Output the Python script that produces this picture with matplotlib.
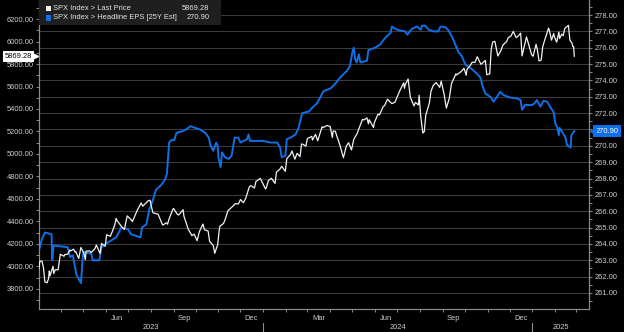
import matplotlib
matplotlib.use("Agg")
import matplotlib.pyplot as plt
import matplotlib.dates as mdates
import matplotlib.transforms as mtransforms
from matplotlib.patches import Rectangle
from matplotlib.ticker import MultipleLocator, FormatStrFormatter
import pandas as pd

plt.rcParams['font.family'] = ['Liberation Sans', 'DejaVu Sans']

# SPX Index > Last Price
spx_dates = [
  '2023-03-02', '2023-03-03', '2023-03-06', '2023-03-08', '2023-03-10', '2023-03-13', '2023-03-15',
  '2023-03-16', '2023-03-17', '2023-03-21', '2023-03-22', '2023-03-24', '2023-03-28', '2023-03-31',
  '2023-04-05', '2023-04-06', '2023-04-10', '2023-04-13', '2023-04-14', '2023-04-18', '2023-04-20',
  '2023-04-21', '2023-04-25', '2023-04-28', '2023-05-02', '2023-05-04', '2023-05-05', '2023-05-10',
  '2023-05-12', '2023-05-17', '2023-05-19', '2023-05-24', '2023-05-26', '2023-05-31', '2023-06-02',
  '2023-06-07', '2023-06-09', '2023-06-13', '2023-06-15', '2023-06-16', '2023-06-23', '2023-06-26',
  '2023-06-30', '2023-07-06', '2023-07-07', '2023-07-12', '2023-07-14', '2023-07-19', '2023-07-21',
  '2023-07-26', '2023-07-28', '2023-07-31', '2023-08-03', '2023-08-04', '2023-08-09', '2023-08-11',
  '2023-08-17', '2023-08-18', '2023-08-22', '2023-08-24', '2023-08-25', '2023-08-31', '2023-09-01',
  '2023-09-06', '2023-09-08', '2023-09-14', '2023-09-15', '2023-09-21', '2023-09-22', '2023-09-26',
  '2023-09-29', '2023-10-03', '2023-10-06', '2023-10-11', '2023-10-13', '2023-10-18', '2023-10-20',
  '2023-10-25', '2023-10-27', '2023-10-31', '2023-11-02', '2023-11-03', '2023-11-08', '2023-11-10',
  '2023-11-14', '2023-11-17', '2023-11-21', '2023-11-24', '2023-11-28', '2023-12-01', '2023-12-05',
  '2023-12-08', '2023-12-13', '2023-12-15', '2023-12-20', '2023-12-22', '2023-12-28', '2023-12-29',
  '2024-01-04', '2024-01-05', '2024-01-08', '2024-01-12', '2024-01-17', '2024-01-19', '2024-01-24',
  '2024-01-26', '2024-01-31', '2024-02-02', '2024-02-07', '2024-02-09', '2024-02-13', '2024-02-16',
  '2024-02-20', '2024-02-22', '2024-02-23', '2024-02-28', '2024-03-01', '2024-03-07', '2024-03-08',
  '2024-03-12', '2024-03-15', '2024-03-21', '2024-03-22', '2024-03-28', '2024-04-01', '2024-04-04',
  '2024-04-05', '2024-04-08', '2024-04-10', '2024-04-12', '2024-04-15', '2024-04-19', '2024-04-23',
  '2024-04-26', '2024-04-30', '2024-05-03', '2024-05-08', '2024-05-10', '2024-05-15', '2024-05-17',
  '2024-05-21', '2024-05-23', '2024-05-24', '2024-05-30', '2024-05-31', '2024-06-05', '2024-06-07',
  '2024-06-12', '2024-06-14', '2024-06-18', '2024-06-21', '2024-06-24', '2024-06-28', '2024-07-03',
  '2024-07-05', '2024-07-10', '2024-07-11', '2024-07-12', '2024-07-16', '2024-07-19', '2024-07-24',
  '2024-07-26', '2024-07-30', '2024-07-31', '2024-08-02', '2024-08-05', '2024-08-07', '2024-08-09',
  '2024-08-14', '2024-08-16', '2024-08-19', '2024-08-23', '2024-08-28', '2024-08-30', '2024-09-03',
  '2024-09-06', '2024-09-10', '2024-09-13', '2024-09-19', '2024-09-20', '2024-09-27', '2024-09-30',
  '2024-10-03', '2024-10-04', '2024-10-09', '2024-10-11', '2024-10-15', '2024-10-18', '2024-10-23',
  '2024-10-25', '2024-10-29', '2024-10-31', '2024-11-04', '2024-11-06', '2024-11-08', '2024-11-11',
  '2024-11-15', '2024-11-19', '2024-11-22', '2024-11-27', '2024-11-29', '2024-12-03', '2024-12-06',
  '2024-12-10', '2024-12-13', '2024-12-16', '2024-12-18', '2024-12-20', '2024-12-24', '2024-12-27',
  '2024-12-31', '2025-01-02', '2025-01-06', '2025-01-08', '2025-01-10', '2025-01-13', '2025-01-15',
  '2025-01-17', '2025-01-23', '2025-01-24', '2025-01-27', '2025-01-30', '2025-01-31', '2025-02-03',
  '2025-02-06', '2025-02-07', '2025-02-10', '2025-02-12', '2025-02-14', '2025-02-19', '2025-02-21',
  '2025-02-24', '2025-02-25', '2025-02-26', '2025-02-27',
]
spx_values = [
  3981, 4045, 4048, 3992, 3862, 3855, 3892,
  3960, 3917, 4002, 3937, 3971, 3971, 4109,
  4091, 4105, 4109, 4146, 4138, 4154, 4130,
  4133, 4071, 4169, 4119, 4061, 4136, 4138,
  4124, 4158, 4191, 4115, 4205, 4180, 4282,
  4268, 4299, 4369, 4426, 4410, 4348, 4329,
  4450, 4411, 4399, 4473, 4505, 4565, 4536,
  4567, 4582, 4589, 4502, 4478, 4468, 4464,
  4370, 4370, 4388, 4376, 4406, 4508, 4516,
  4465, 4457, 4505, 4450, 4330, 4320, 4274,
  4288, 4229, 4308, 4377, 4327, 4315, 4224,
  4186, 4117, 4194, 4318, 4358, 4383, 4415,
  4496, 4514, 4538, 4559, 4555, 4595, 4567,
  4604, 4707, 4719, 4698, 4755, 4783, 4770,
  4689, 4697, 4764, 4784, 4739, 4840, 4868,
  4891, 4846, 4959, 4995, 5027, 4954, 5006,
  4976, 5088, 5089, 5070, 5137, 5157, 5124,
  5175, 5117, 5242, 5234, 5254, 5243, 5147,
  5204, 5202, 5160, 5123, 5061, 4967, 5071,
  5100, 5036, 5128, 5187, 5223, 5308, 5303,
  5321, 5268, 5305, 5236, 5278, 5354, 5347,
  5421, 5431, 5487, 5465, 5448, 5460, 5537,
  5567, 5633, 5585, 5615, 5667, 5505, 5427,
  5459, 5436, 5522, 5346, 5186, 5199, 5344,
  5455, 5554, 5608, 5635, 5592, 5648, 5529,
  5408, 5496, 5626, 5713, 5703, 5738, 5762,
  5700, 5751, 5792, 5815, 5815, 5865, 5797,
  5808, 5832, 5705, 5712, 5929, 5996, 6001,
  5871, 5917, 5969, 5999, 6032, 6050, 6090,
  6034, 6051, 6074, 5872, 5931, 6040, 5971,
  5882, 5869, 5975, 5918, 5827, 5836, 5950,
  5997, 6119, 6101, 6012, 6071, 6041, 5994,
  6084, 6026, 6066, 6051, 6115, 6144, 6013,
  5983, 5955, 5956, 5869.28,
]

# SPX Index > Headline EPS [25Y Est]
eps_dates = [
  '2023-03-02', '2023-03-06', '2023-03-10', '2023-03-19', '2023-03-20', '2023-03-22', '2023-04-10',
  '2023-04-13', '2023-04-17', '2023-04-22', '2023-04-28', '2023-05-01', '2023-05-12', '2023-05-14',
  '2023-05-23', '2023-05-26', '2023-06-04', '2023-06-15', '2023-06-22', '2023-07-01', '2023-07-05',
  '2023-07-18', '2023-07-20', '2023-07-26', '2023-07-30', '2023-08-04', '2023-08-08', '2023-08-15',
  '2023-08-20', '2023-08-23', '2023-08-26', '2023-08-29', '2023-09-02', '2023-09-05', '2023-09-14',
  '2023-09-18', '2023-09-24', '2023-09-30', '2023-10-07', '2023-10-14', '2023-10-19', '2023-10-21',
  '2023-10-25', '2023-10-29', '2023-10-31', '2023-11-01', '2023-11-04', '2023-11-06', '2023-11-10',
  '2023-11-15', '2023-11-19', '2023-11-23', '2023-11-28', '2023-12-01', '2023-12-10', '2023-12-12',
  '2023-12-14', '2024-01-01', '2024-01-11', '2024-01-20', '2024-01-24', '2024-01-26', '2024-01-31',
  '2024-02-02', '2024-02-07', '2024-02-14', '2024-02-18', '2024-02-23', '2024-03-03', '2024-03-07',
  '2024-03-14', '2024-03-19', '2024-03-23', '2024-04-01', '2024-04-06', '2024-04-15', '2024-04-24',
  '2024-04-28', '2024-05-01', '2024-05-03', '2024-05-05', '2024-05-07', '2024-05-10', '2024-05-12',
  '2024-05-21', '2024-05-23', '2024-06-01', '2024-06-08', '2024-06-13', '2024-06-17', '2024-06-22',
  '2024-06-24', '2024-06-29', '2024-07-05', '2024-07-12', '2024-07-15', '2024-07-21', '2024-07-28',
  '2024-08-02', '2024-08-04', '2024-08-08', '2024-08-13', '2024-08-20', '2024-08-26', '2024-08-29',
  '2024-09-05', '2024-09-09', '2024-09-14', '2024-09-18', '2024-09-23', '2024-09-27', '2024-10-02',
  '2024-10-09', '2024-10-13', '2024-10-18', '2024-10-22', '2024-10-25', '2024-10-29', '2024-11-05',
  '2024-11-09', '2024-11-14', '2024-11-18', '2024-11-23', '2024-12-02', '2024-12-11', '2024-12-16',
  '2024-12-18', '2024-12-22', '2025-01-01', '2025-01-05', '2025-01-07', '2025-01-12', '2025-01-16',
  '2025-01-21', '2025-01-25', '2025-01-30', '2025-02-01', '2025-02-04', '2025-02-06', '2025-02-07',
  '2025-02-10', '2025-02-15', '2025-02-17', '2025-02-22', '2025-02-23', '2025-02-27',
]
eps_values = [
  263.6, 264.3, 264.7, 264.6, 263.0, 263.9, 263.8,
  263.2, 263.3, 262.1, 261.6, 263.5, 263.4, 263.0,
  263.0, 263.8, 264.1, 264.4, 265.0, 264.9, 264.6,
  264.4, 265.0, 265.2, 266.1, 266.7, 267.3, 267.6,
  267.9, 268.3, 270.2, 270.35, 270.35, 270.8, 270.9,
  271.0, 271.2, 271.1, 271.0, 270.8, 270.5, 270.05,
  269.7, 270.2, 270.0, 269.3, 268.7, 269.6, 269.3,
  269.2, 269.4, 270.5, 270.5, 270.2, 270.4, 270.7,
  270.3, 270.3, 270.2, 270.2, 269.9, 269.3, 269.4,
  270.4, 270.5, 270.7, 271.1, 272.0, 272.1, 272.3,
  272.6, 273.0, 273.35, 273.5, 273.7, 274.2, 274.6,
  274.9, 275.7, 276.0, 275.3, 275.1, 275.6, 275.1,
  275.2, 275.85, 276.0, 276.2, 276.5, 276.7, 276.9,
  277.3, 277.15, 277.05, 277.0, 276.8, 277.15, 277.3,
  277.1, 277.35, 277.35, 277.1, 277.0, 277.0, 277.3,
  277.25, 277.05, 276.65, 276.2, 275.7, 275.5, 274.95,
  274.75, 274.6, 274.4, 274.2, 273.7, 273.2, 273.0,
  272.7, 273.0, 273.3, 273.1, 272.95, 272.9, 272.8,
  272.2, 272.5, 272.5, 272.65, 272.8, 272.4, 272.75,
  272.7, 272.4, 272.05, 271.4, 271.1, 270.65, 271.1,
  270.9, 270.5, 270.05, 269.9, 270.65, 270.9,
]

month_labels = ['Jun', 'Sep', 'Dec', 'Mar', 'Jun', 'Sep', 'Dec']
month_label_dates = ['2023-06-16', '2023-09-16', '2023-12-16', '2024-03-16',
                     '2024-06-16', '2024-09-16', '2024-12-16']
year_labels = ['2023', '2024', '2025']

spx = pd.Series(spx_values, index=pd.to_datetime(spx_dates))
eps = pd.Series(eps_values, index=pd.to_datetime(eps_dates))

BG = '#000000'
GRID = '#3a3a3a'
SPINE = '#8c8c8c'
TXT = '#cfcfcf'
WHITE = '#f2f2f2'
BLUE = '#0f6fe6'
FS = 5.4

fig = plt.figure(figsize=(6.24, 3.32), dpi=100, facecolor=BG)
ax = fig.add_axes([39 / 624, 23 / 332, 550 / 624, 309 / 332])
ax.set_facecolor(BG)
ax2 = ax.twinx()

x_start = pd.Timestamp('2023-03-02')
x_end = pd.Timestamp('2025-03-19')

ax2.plot(eps.index, eps.values, color=BLUE, lw=1.4, zorder=3)
ax.plot(spx.index, spx.values, color=WHITE, lw=0.9, zorder=4)
ax.set_zorder(ax2.get_zorder() + 1)
ax.patch.set_visible(False)
ax2.patch.set_visible(True)
ax2.patch.set_facecolor(BG)

ax.set_xlim(x_start, x_end)
ax.set_ylim(3622, 6369)
ax2.set_ylim(260.02, 278.92)

# left axis
ax.yaxis.set_major_locator(MultipleLocator(200))
ax.yaxis.set_minor_locator(MultipleLocator(100))
ax.yaxis.set_major_formatter(FormatStrFormatter('%.2f'))
# right axis
ax2.yaxis.set_major_locator(MultipleLocator(1))
ax2.yaxis.set_minor_locator(MultipleLocator(0.5))
ax2.yaxis.set_major_formatter(FormatStrFormatter('%.2f'))

# x axis: grid each quarter, tick each month, labels drawn mid-month
ax.xaxis.set_major_locator(mdates.MonthLocator(bymonth=[1, 4, 7, 10]))
ax.xaxis.set_minor_locator(mdates.MonthLocator())
ax.xaxis.set_major_formatter(plt.NullFormatter())

for a in (ax, ax2):
  for s in a.spines.values():
    s.set_color(SPINE)
    s.set_linewidth(0.8)
  a.spines['top'].set_visible(False)
  a.tick_params(which='both', colors=SPINE, labelcolor=TXT, labelsize=FS,
                length=2.5, width=0.7, pad=1.5)
  a.tick_params(which='minor', length=2)

ax2.grid(True, axis='y', color=GRID, lw=0.8)
ax2.grid(True, axis='x', color=GRID, lw=0.8)
ax2.xaxis.set_major_locator(mdates.MonthLocator(bymonth=[1, 4, 7, 10]))
ax.grid(False)

lab_trans = mtransforms.blended_transform_factory(ax.transData, ax.transAxes)
for lab, d in zip(month_labels, month_label_dates):
  ax.text(pd.Timestamp(d), -0.02, lab, transform=lab_trans, ha='center', va='top',
          fontsize=FS, color=TXT)

year_edges = [x_start, pd.Timestamp('2024-01-01'), pd.Timestamp('2025-01-01'), x_end]
for i, lab in enumerate(year_labels):
  mid = year_edges[i] + (year_edges[i + 1] - year_edges[i]) / 2
  ax.text(mid, -0.05, lab, transform=lab_trans, ha='center', va='top',
          fontsize=FS, color=TXT)
for d in year_edges[1:3]:
  ax.plot([d, d], [-0.045, -0.08], transform=lab_trans, color=SPINE, lw=0.8, clip_on=False)

# legend box
ax.add_patch(Rectangle((0, 0.918), 0.33, 0.082, transform=ax.transAxes,
                       facecolor='#1f1f1f', edgecolor='none', zorder=6))
legend_rows = [('SPX Index > Last Price', spx.iloc[-1], WHITE),
               ('SPX Index > Headline EPS [25Y Est]', eps.iloc[-1], BLUE)]
for i, (name, val, col) in enumerate(legend_rows):
  yy = 0.972 - i * 0.03
  ax.add_patch(Rectangle((0.012, yy - 0.009), 0.009, 0.018, transform=ax.transAxes,
                         facecolor=col, edgecolor='none', zorder=7))
  ax.text(0.026, yy, name, transform=ax.transAxes, va='center', ha='left',
          fontsize=FS, color='#e6e6e6', zorder=7)
  ax.text(0.31, yy, f'{val:.2f}', transform=ax.transAxes, va='center', ha='right',
          fontsize=FS, color='#e6e6e6', zorder=7)

# last value tags
tag_l = mtransforms.blended_transform_factory(ax.transAxes, ax.transData)
ax.text(-0.012, spx.iloc[-1], f'{spx.iloc[-1]:.2f}', transform=tag_l, ha='right', va='center',
        fontsize=FS, color='black', zorder=8, clip_on=False,
        bbox=dict(boxstyle='square,pad=0.25', facecolor='white', edgecolor='none'))
ax.plot([-0.007], [spx.iloc[-1]], marker='>', ms=4.5, color='white', transform=tag_l,
        clip_on=False, zorder=8)

tag_r = mtransforms.blended_transform_factory(ax2.transAxes, ax2.transData)
ax2.text(1.012, eps.iloc[-1], f'{eps.iloc[-1]:.2f}', transform=tag_r, ha='left', va='center',
         fontsize=FS, color='white', zorder=8, clip_on=False,
         bbox=dict(boxstyle='square,pad=0.3', facecolor=BLUE, edgecolor='none'))
ax2.plot([1.007], [eps.iloc[-1]], marker='<', ms=4.5, color=BLUE, transform=tag_r,
         clip_on=False, zorder=8)

fig.savefig('out.png', dpi=100, facecolor=BG)
